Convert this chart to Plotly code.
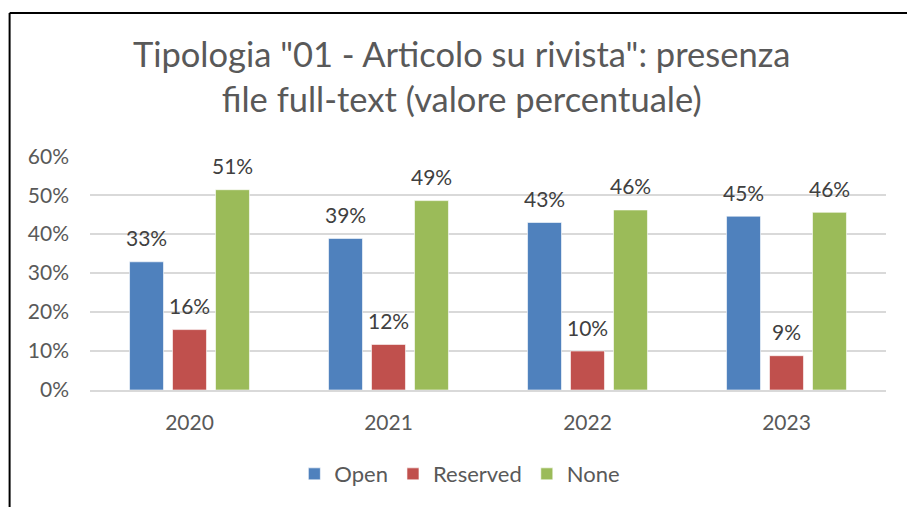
import plotly.graph_objects as go

years = ["2020", "2021", "2022", "2023"]
open_vals = [0.329, 0.389, 0.430, 0.446]
reserved_vals = [0.155, 0.117, 0.100, 0.088]
none_vals = [0.514, 0.486, 0.462, 0.456]
series_names = ["Open", "Reserved", "None"]
colors = ["#4F81BD", "#C0504D", "#9BBB59"]
title_text = 'Tipologia "01 - Articolo su rivista": presenza<br>file full-text (valore percentuale)'

FONT = "Lato, Open Sans, sans-serif"

fig = go.Figure()
all_vals = [open_vals, reserved_vals, none_vals]
for name, vals, col in zip(series_names, all_vals, colors):
    fig.add_trace(go.Bar(
        x=years, y=vals, name=name,
        marker=dict(color=col, line=dict(color="rgba(255,255,255,0.6)", width=1)),
    ))

slot_px = 43
for k, vals in enumerate(all_vals):
    for i, v in enumerate(vals):
        fig.add_annotation(
            x=i, y=v, xref="x", yref="y",
            text=f"{round(v * 100)}%", showarrow=False,
            xshift=(k - 1) * slot_px, yshift=24,
            font=dict(family=FONT, size=21, color="#404040"),
        )

fig.add_shape(type="line", xref="paper", yref="paper",
              x0=-0.101, x1=1.2, y0=1.611, y1=1.611,
              line=dict(color="black", width=2))
fig.add_shape(type="line", xref="paper", yref="paper",
              x0=-0.101, x1=-0.101, y0=-1.0, y1=1.611,
              line=dict(color="black", width=2))

fig.update_layout(
    width=907, height=507,
    margin=dict(l=90, r=21, t=156, b=117, autoexpand=False),
    paper_bgcolor="white", plot_bgcolor="white",
    barmode="group", bargap=0.352, bargroupgap=0.21,
    title=dict(text=title_text, x=0.509, xref="container", xanchor="center",
               y=0.867, yref="container", yanchor="top",
               font=dict(family=FONT, size=34.5, color="#595959")),
    font=dict(family=FONT, color="#595959"),
    showlegend=True,
    legend=dict(orientation="h", x=0.507, xanchor="center", xref="container",
                y=0.065, yanchor="middle", yref="container",
                font=dict(family=FONT, size=22, color="#595959"),
                itemwidth=30, traceorder="normal"),
    xaxis=dict(type="category", range=[-0.5, 3.5], showgrid=False, showline=True,
               linecolor="#D9D9D9", linewidth=2, ticks="",
               tickfont=dict(family=FONT, size=21, color="#595959")),
    yaxis=dict(range=[0, 0.6005], dtick=0.1, tickformat=".0%",
               showgrid=True, gridcolor="#D9D9D9", gridwidth=2,
               zeroline=False, showline=False, ticks="", ticklen=0,
               tickfont=dict(family=FONT, size=21, color="#595959")),
)
fig.update_yaxes(ticklabelstandoff=20)
fig.update_xaxes(ticklabelstandoff=13)

fig.write_html("out.html", config={"displayModeBar": False},
               post_script="document.body.style.margin='0';")
